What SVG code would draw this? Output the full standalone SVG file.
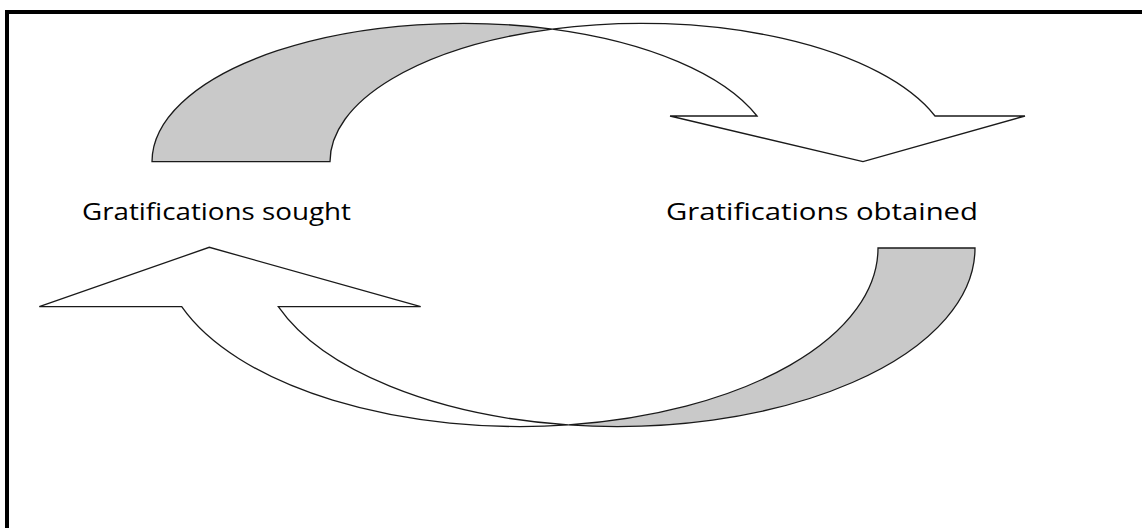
<svg xmlns="http://www.w3.org/2000/svg" width="1142" height="528" viewBox="0 0 1142 528">
  <style>
    .frame { fill: #000000; }
    .arrow { stroke: #1a1a1a; stroke-width: 1.3; stroke-linejoin: miter; }
    .back { fill: #c9c9c9; }
    .front { fill: #ffffff; }
    .label { font-family: "Open Sans", "Noto Sans", "Liberation Sans", sans-serif; font-size: 24px; fill: #000000; }
  </style>
  <rect x="0" y="0" width="1142" height="528" fill="#ffffff"/>
  <g id="frame">
    <rect class="frame" x="5" y="10" width="1137" height="4"/>
    <rect class="frame" x="5" y="10" width="4" height="518"/>
  </g>
  <g id="connectors">
    <g id="arrow-sought-to-obtained">
      <path class="arrow back" d="M152,161.7 A311.2,138.4 0 0 1 552.2,29.1 A311.2,138.4 0 0 0 330,161.7 Z"/>
      <path class="arrow front" d="M552.2,29.1 A311.2,138.4 0 0 1 935,116 L1025,116 L863,161.7 L670,116 L757,116 A311.2,138.4 0 0 0 552.2,29.1 Z"/>
    </g>
    <g id="arrow-obtained-to-sought">
      <path class="arrow back" d="M975,248 A358.2,178.5 0 0 1 568.3,424.9 A358.2,178.5 0 0 0 878,248 Z"/>
      <path class="arrow front" d="M568.3,424.9 A358.2,178.5 0 0 1 181.7,306.7 L39.3,306.7 L209.3,247.3 L420.7,306.7 L278.3,306.7 A358.2,178.5 0 0 0 568.3,424.9 Z"/>
    </g>
  </g>
  <g id="node-sought">
    <text class="label" x="82" y="220" textLength="269" lengthAdjust="spacingAndGlyphs">Gratifications sought</text>
  </g>
  <g id="node-obtained">
    <text class="label" x="666" y="220" textLength="312" lengthAdjust="spacingAndGlyphs">Gratifications obtained</text>
  </g>
</svg>
